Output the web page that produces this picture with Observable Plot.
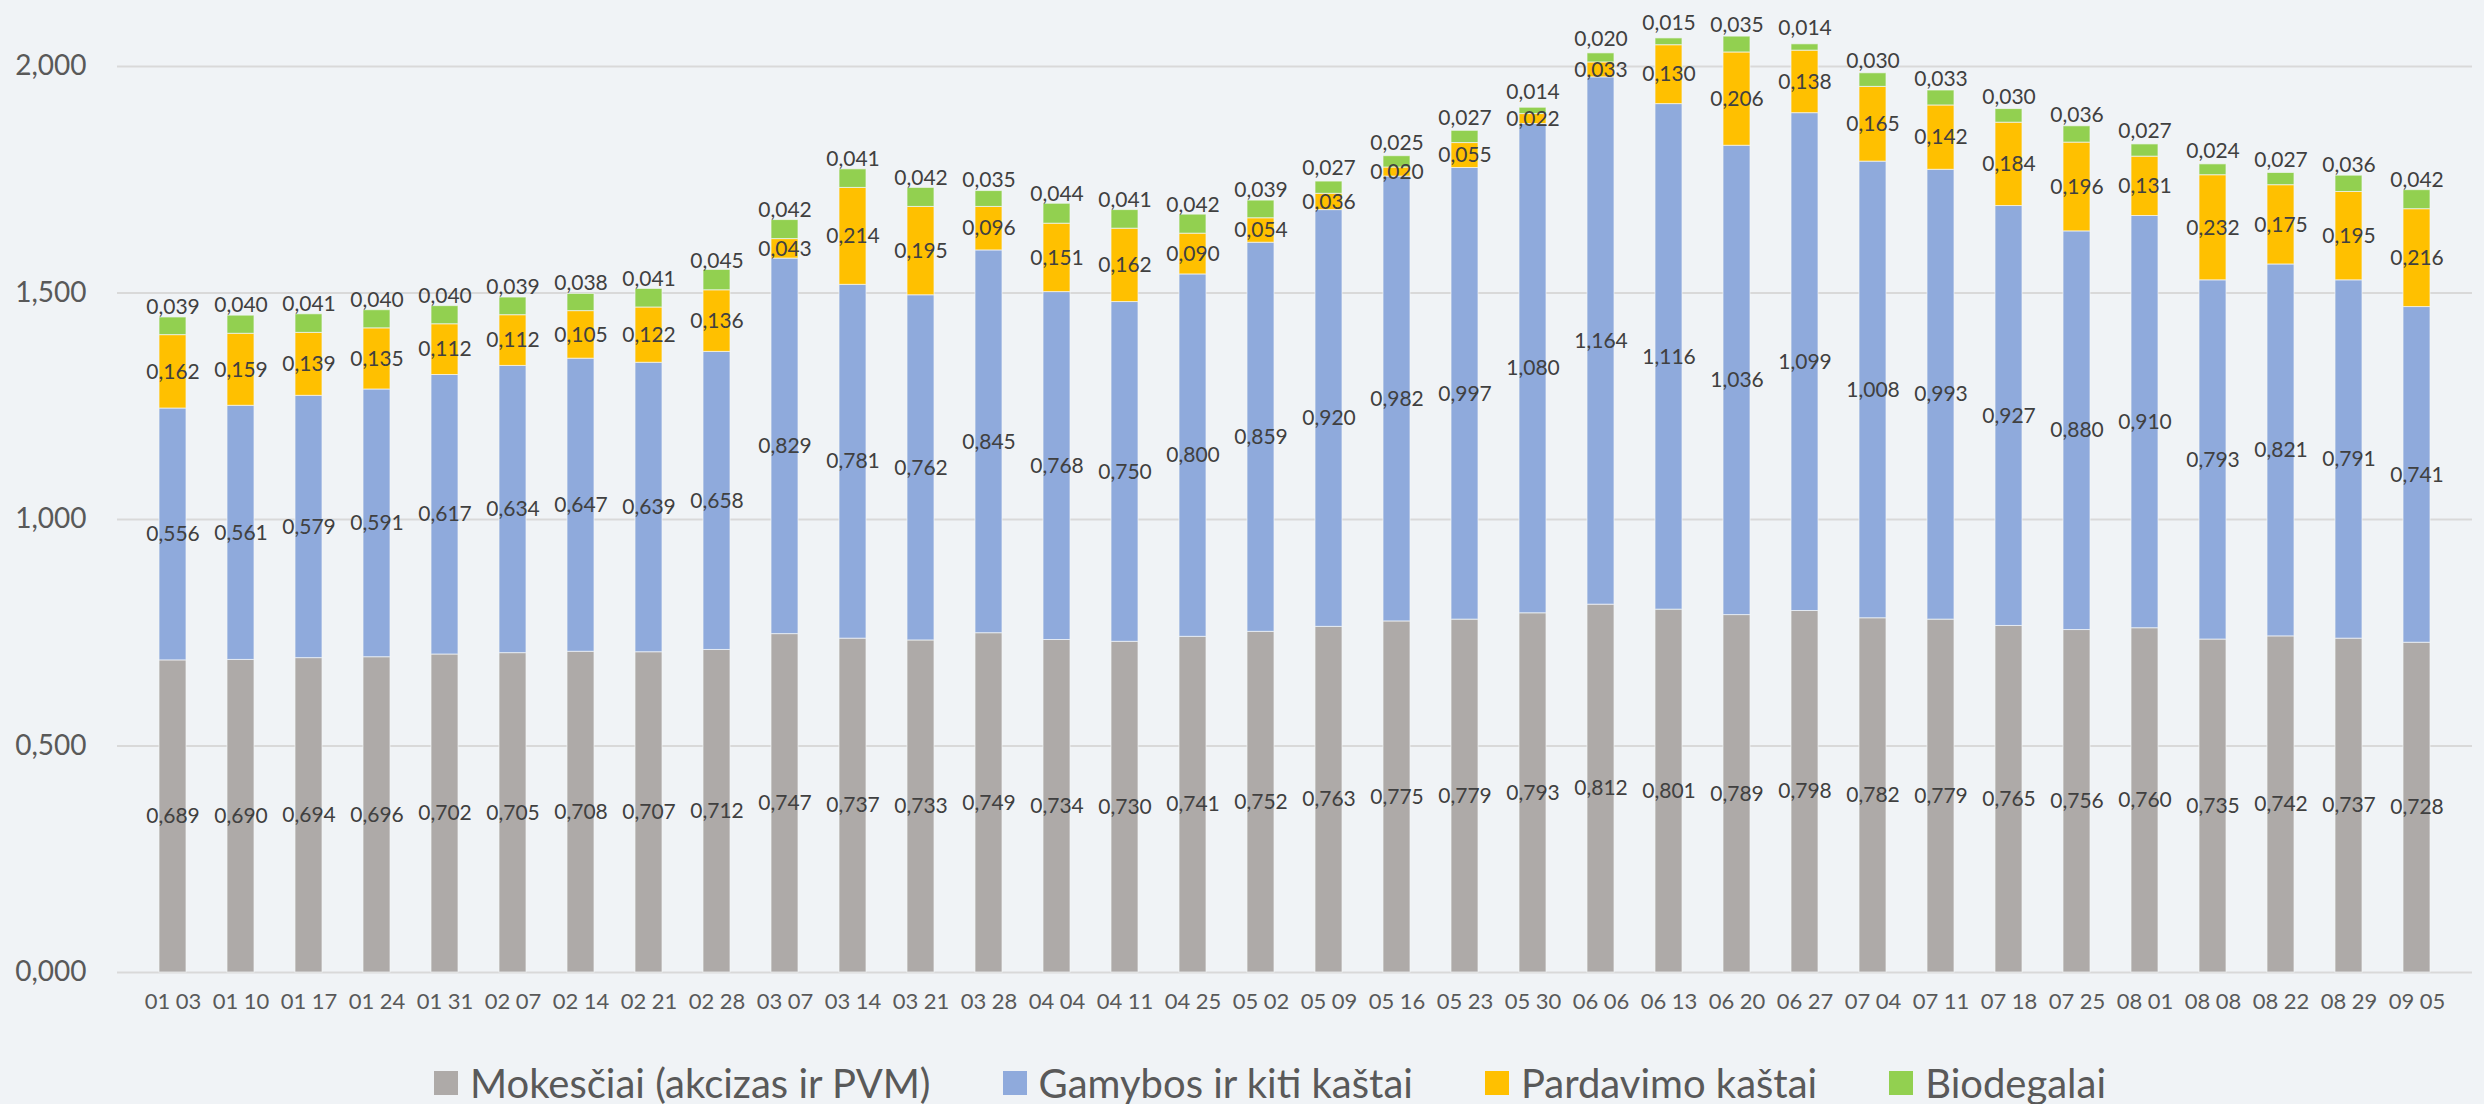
<!DOCTYPE html>
<html><head><meta charset="utf-8">
<script src="https://cdn.jsdelivr.net/npm/d3@7"></script>
<script src="https://cdn.jsdelivr.net/npm/@observablehq/plot@0.6"></script>
<style>
html,body{margin:0;padding:0;background:#F0F3F6;}
#wrap{position:relative;width:2484px;height:1104px;font-family:Lato,"Open Sans",sans-serif;}
#chart{position:absolute;left:0;top:0;}
#legend{position:absolute;left:0;top:1060px;width:2484px;box-sizing:border-box;padding-left:56px;display:flex;justify-content:center;gap:72px;font-size:40px;color:#595959;line-height:46px;}
.item{display:flex;align-items:center;gap:12px;}
.sw{width:24px;height:24px;display:inline-block;}
</style></head>
<body><div id="wrap"><div id="chart"></div><div id="legend"></div></div>
<script>
const dates = ["01 03","01 10","01 17","01 24","01 31","02 07","02 14","02 21","02 28","03 07","03 14","03 21","03 28","04 04","04 11","04 25","05 02","05 09","05 16","05 23","05 30","06 06","06 13","06 20","06 27","07 04","07 11","07 18","07 25","08 01","08 08","08 22","08 29","09 05"];
const taxes = [0.689,0.690,0.694,0.696,0.702,0.705,0.708,0.707,0.712,0.747,0.737,0.733,0.749,0.734,0.730,0.741,0.752,0.763,0.775,0.779,0.793,0.812,0.801,0.789,0.798,0.782,0.779,0.765,0.756,0.760,0.735,0.742,0.737,0.728];
const production = [0.556,0.561,0.579,0.591,0.617,0.634,0.647,0.639,0.658,0.829,0.781,0.762,0.845,0.768,0.750,0.800,0.859,0.920,0.982,0.997,1.080,1.164,1.116,1.036,1.099,1.008,0.993,0.927,0.880,0.910,0.793,0.821,0.791,0.741];
const sales = [0.162,0.159,0.139,0.135,0.112,0.112,0.105,0.122,0.136,0.043,0.214,0.195,0.096,0.151,0.162,0.090,0.054,0.036,0.020,0.055,0.022,0.033,0.130,0.206,0.138,0.165,0.142,0.184,0.196,0.131,0.232,0.175,0.195,0.216];
const bio = [0.039,0.040,0.041,0.040,0.040,0.039,0.038,0.041,0.045,0.042,0.041,0.042,0.035,0.044,0.041,0.042,0.039,0.027,0.025,0.027,0.014,0.020,0.015,0.035,0.014,0.030,0.033,0.030,0.036,0.027,0.024,0.027,0.036,0.042];
const seriesNames = ["Mokesčiai (akcizas ir PVM)","Gamybos ir kiti kaštai","Pardavimo kaštai","Biodegalai"];
const seriesColors = ["#AEAAA8","#8FAADC","#FFC000","#92D050"];
const yTicks = [0, 0.5, 1, 1.5, 2];

const arrays = [taxes, production, sales, bio];
const rows = [];
dates.forEach((d, i) => arrays.forEach((arr, j) => rows.push({date: d, series: seriesNames[j], value: arr[i]})));
const fmt = v => v.toFixed(3).replace(".", ",");
const last = seriesNames[3];

const chart = Plot.plot({
  width: 2484,
  height: 1040,
  marginLeft: 117,
  marginRight: 12,
  marginTop: 66,
  marginBottom: 68,
  style: {background: "transparent", fontFamily: "Lato, 'Open Sans', sans-serif", color: "#595959"},
  x: {domain: dates, padding: 0.6, label: null},
  y: {domain: [0, 2], label: null},
  color: {domain: seriesNames, range: seriesColors},
  marks: [
    Plot.gridY(yTicks, {stroke: "#D9D9D9", strokeOpacity: 1, strokeWidth: 2}),
    Plot.barY(rows, {x: "date", y: "value", fill: "series", stroke: "#F4F6F8", strokeWidth: 1, strokeOpacity: 0.7}),
    Plot.text(rows, Plot.stackY({x: "date", y: "value", z: "series",
      text: d => d.series !== last ? fmt(d.value) : "",
      fill: "#404040", fontSize: 21})),
    Plot.text(rows, Plot.stackY({x: "date", y: "value", z: "series",
      text: d => d.series === last ? fmt(d.value) : "",
      fill: "#404040", fontSize: 21, dy: -19})),
    Plot.axisY({ticks: yTicks, tickFormat: fmt, tickSize: 0, tickPadding: 31, fontSize: 28, label: null}),
    Plot.axisX({tickSize: 0, tickPadding: 21, fontSize: 22, label: null})
  ]
});
document.getElementById("chart").appendChild(chart);

const legend = document.getElementById("legend");
seriesNames.forEach((name, i) => {
  const it = document.createElement("div");
  it.className = "item";
  const sw = document.createElement("span");
  sw.className = "sw";
  sw.style.background = seriesColors[i];
  const tx = document.createElement("span");
  tx.textContent = name;
  it.appendChild(sw); it.appendChild(tx);
  legend.appendChild(it);
});
</script></body></html>
